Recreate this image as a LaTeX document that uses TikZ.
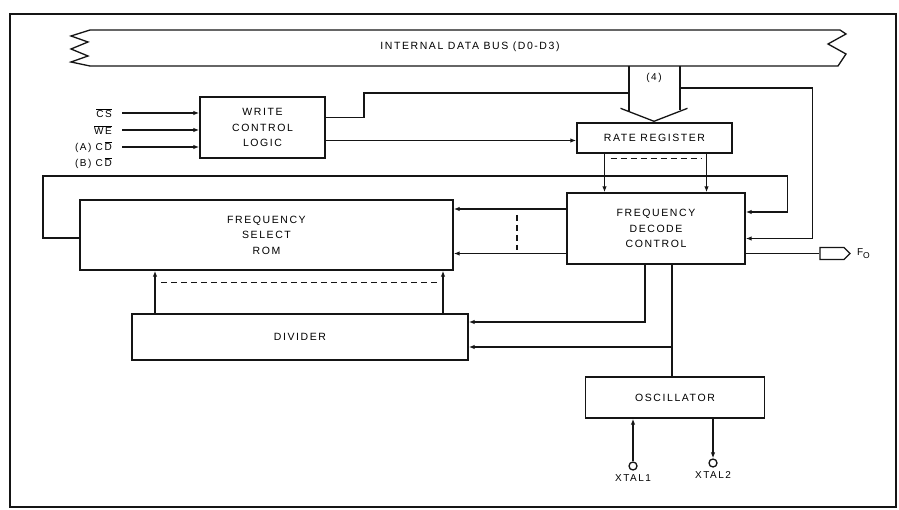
\documentclass[tikz,border=0pt]{standalone}
\definecolor{inkLine}{HTML}{151515}
\definecolor{paperBg}{HTML}{FFFFFF}
\usepackage{fontspec}
\setmainfont{Liberation Sans}[LetterSpace=15]
\usepackage{tikz}
\usetikzlibrary{calc, positioning, arrows.meta, shapes.symbols}

\begin{document}
\begin{tikzpicture}[x=1pt, y=-1pt,
    block/.style={draw=inkLine, line width=1.4pt, align=center, inner sep=0pt,
      font=\fontsize{10.5}{15.5}\selectfont},
    sig/.style={draw=inkLine, line width=1.3pt, -{Latex[length=6pt,width=4.5pt]}},
    wire/.style={draw=inkLine, line width=1.3pt},
    dashLine/.style={draw=inkLine, line width=1.3pt, dash pattern=on 6pt off 4pt},
    pinLbl/.style={font=\fontsize{10}{11}\selectfont, inner sep=1pt},
    pad/.style={draw=inkLine, line width=1.3pt, circle, inner sep=0pt, minimum size=8pt}]
  \fill[paperBg] (0,0) rectangle (899,510);
  \useasboundingbox (0,0) rectangle (899,510);
  \draw[inkLine, line width=1.6pt] (10,14) rectangle (896,507);

  % data bus
  \draw[wire] (90,30) -- (71,36) -- (88,42) -- (71,49) -- (88,56) -- (71,62) -- (90,66);
  \draw[wire] (90,30) -- (840,30) -- (846,34) -- (828,44) -- (846,54) -- (838,66) -- (90,66);
  \node[font=\fontsize{10.5}{12}\selectfont] (busLbl) at (470,47) {INTERNAL DATA BUS (D0-D3)};
  \coordinate (arrL) at (629,66);
  \coordinate (arrR) at (680,66);
  \node[pinLbl] (widthLbl) at (654,78) {(4)};

  \node[block, minimum width=125pt, minimum height=61pt] (wcl) at (262.5,127.5) {WRITE\\CONTROL\\LOGIC};
  \node[block, minimum width=155pt, minimum height=30pt] (rr) at (654.5,138) {RATE REGISTER};
  \node[block, minimum width=178pt, minimum height=71pt] (fdc) at (656,228.5) {FREQUENCY\\DECODE\\CONTROL};
  \node[block, minimum width=373pt, minimum height=70pt] (fsr) at (266.5,235) {FREQUENCY\\SELECT\\ROM};
  \node[block, minimum width=336pt, minimum height=46pt] (div) at (300,337) {DIVIDER};
  \node[block, minimum width=179pt, minimum height=41pt] (osc) at (675,397.5) {OSCILLATOR};

  \node[pinLbl, anchor=east] (csLbl) at (113,113) {$\overline{\mbox{CS}}$};
  \node[pinLbl, anchor=east] (weLbl) at (113,130) {$\overline{\mbox{WE}}$};
  \node[pinLbl, anchor=east] (cdaLbl) at (113,147) {(A) C\,$\overline{\mbox{D}}$};
  \node[pinLbl, anchor=east] (cdbLbl) at (113,163) {(B) C\,$\overline{\mbox{D}}$};

  \node[draw=inkLine, line width=1.3pt, signal, signal to=east, minimum width=30pt,
        minimum height=12pt, inner sep=0pt] (foPort) at (832,253.5) {};
  \node[pinLbl, right=5pt of foPort] (foLbl) {F\raisebox{-2.5pt}{\fontsize{8.5}{9}\selectfont O}};

  \node[pad] (xtal1) at (633,466) {};
  \node[pad] (xtal2) at (713,463) {};
  \node[pinLbl, below=3pt of xtal1] (xtal1Lbl) {XTAL1};
  \node[pinLbl, below=3pt of xtal2] (xtal2Lbl) {XTAL2};

  % bus to rate register
  \draw[wire] (arrL) -- ++(0,46);
  \draw[wire] (arrR) -- ++(0,44);
  \draw[wire] ($(rr.north)+(-34,-14)$) -- ($(rr.north)+(-0.5,-1)$) -- ($(rr.north)+(33,-14)$);

  \draw[sig] ([xshift=9pt]csLbl.east) -- (csLbl.east -| wcl.west);
  \draw[sig] ([xshift=9pt]weLbl.east) -- (weLbl.east -| wcl.west);
  \draw[sig] ([xshift=9pt]cdaLbl.east) -- (cdaLbl.east -| wcl.west);

  \draw[wire] ([yshift=10pt]wcl.east) -| (364,93) -- (arrL |- 364,93);
  \draw[sig] ([yshift=-13pt]wcl.east) -- ([yshift=-13pt]wcl.east -| rr.west);
  \draw[sig] (arrR |- 0,88) -| ([xshift=67pt,yshift=-10pt]fdc.east) -- ([yshift=-10pt]fdc.east);

  \draw[sig] ([xshift=-50pt]rr.south) -- ([xshift=-50pt]rr.south |- fdc.north);
  \draw[sig] ([xshift=52pt]rr.south) -- ([xshift=52pt]rr.south |- fdc.north);
  \draw[dashLine] ([xshift=-44pt,yshift=-5pt]rr.south) -- ([xshift=47pt,yshift=-5pt]rr.south);

  \draw[sig] ([yshift=-3pt]fsr.west) -- (43,238) -- (43,176) -| ([xshift=42pt,yshift=16.5pt]fdc.east) -- ([yshift=16.5pt]fdc.east);
  \draw[sig] ([yshift=19.5pt]fdc.west) -- ([yshift=19.5pt]fdc.west -| fsr.east);
  \draw[sig] ([yshift=-25pt]fdc.west) -- ([yshift=-25pt]fdc.west -| fsr.east);
  \draw[dashLine] (517,215) -- (517,250);
  \draw[wire] ([yshift=-25pt]fdc.east) -- (foPort.west);

  \draw[sig] ([xshift=-145pt]div.north) -- ([xshift=-145pt]div.north |- fsr.south);
  \draw[sig] ([xshift=143pt]div.north) -- ([xshift=143pt]div.north |- fsr.south);
  \draw[dashLine] ([xshift=-139pt,yshift=31pt]div.north) -- ([xshift=138pt,yshift=31pt]div.north);

  \draw[sig] ([xshift=-11pt]fdc.south) |- ([yshift=15pt]div.east);
  \coordinate (oscTap) at ([xshift=-3pt]osc.north);
  \draw[wire] (oscTap) -- (oscTap |- fdc.south);
  \draw[sig] ([yshift=-10pt]div.east -| oscTap) -- ([yshift=-10pt]div.east);

  \draw[sig] (xtal1) -- (xtal1 |- osc.south);
  \draw[sig] (xtal2 |- osc.south) -- (xtal2);
\end{tikzpicture}
\end{document}
